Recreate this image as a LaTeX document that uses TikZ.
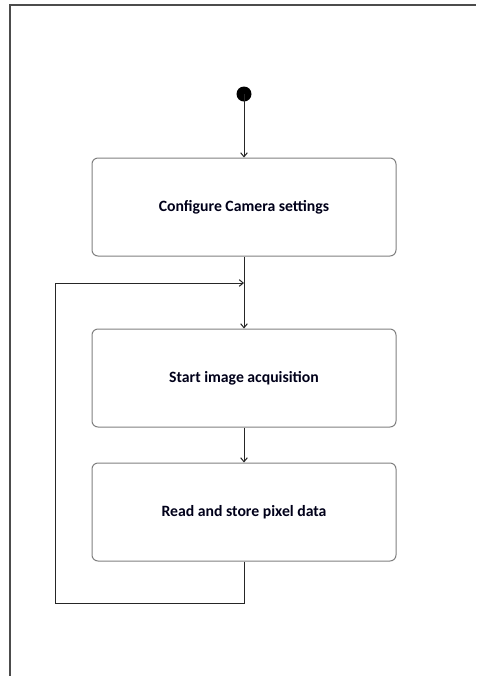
\documentclass[tikz,border=0pt]{standalone}
\usepackage{fontspec}
\setmainfont{Carlito}
\usetikzlibrary{arrows.meta}
\begin{document}
\begin{tikzpicture}[x=0.75pt,y=-0.75pt,
  flow/.style={line width=0.75pt,draw=black!85,-{Straight Barb[length=3pt,width=5pt]}},
  actbox/.style={draw=black!50,line width=0.75pt,rounded corners=4.5pt,
    minimum width=228pt,minimum height=73.5pt,font=\fontsize{11.8}{14}\selectfont\bfseries,
    text=black!90!blue}]
  \useasboundingbox (0,0) rectangle (476,676);
  % frame
  \draw[line width=0.9pt,black!70] (10,676) -- (10,5) -- (476,5);
  % start
  \fill (244,94) circle (7.5);
  \coordinate (start) at (244,94);
  \node[actbox] (cfg) at (244,207) {Configure Camera settings};
  \node[actbox] (acq) at (244,378) {Start image acquisition};
  \node[actbox] (rd) at (244,512) {Read and store pixel data};
  \coordinate (join) at (244,283);
  \coordinate (loopbl) at (55,603);
  % connectors
  \draw[flow] (start) -- (cfg.north);
  \draw[flow] (cfg.south) -- (acq.north);
  \draw[flow] (acq.south) -- (rd.north);
  \draw[flow] (rd.south) |- (loopbl) |- (join);
\end{tikzpicture}
\end{document}
